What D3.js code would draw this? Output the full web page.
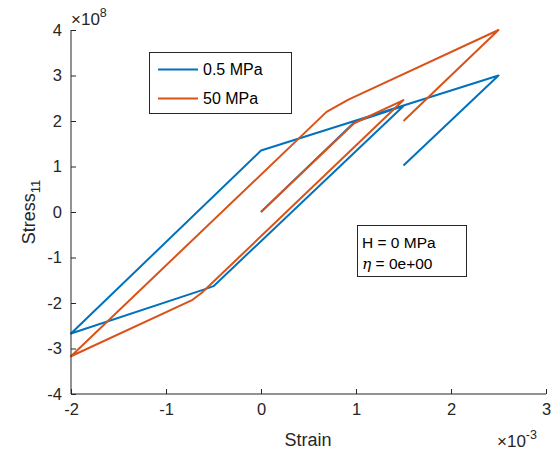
<!DOCTYPE html>
<html><head><meta charset="utf-8">
<script src="https://cdn.jsdelivr.net/npm/d3@7"></script>
<style>body{margin:0;background:#fff}svg{display:block}text{font-family:"Liberation Sans",Arial,Helvetica,sans-serif}</style>
</head><body>
<script>
// Strain (x 1e-3) and Stress11 (x 1e8)
const strainBlue  = [0, 0.98, 1.5, -0.5, -0.58, -2, 0, 2.5, 1.5];
const stressBlue  = [0, 1.97, 2.33, -1.63, -1.69, -2.67, 1.35, 3.0, 1.02];
const strainOrange = [0, 0.98, 1.5, -0.62, -0.72, -2, 0.69, 0.92, 2.5, 1.5];
const stressOrange = [0, 1.95, 2.46, -1.77, -1.93, -3.17, 2.2, 2.47, 4.0, 2.0];
const seriesNames = ["0.5 MPa", "50 MPa"];
const seriesColors = ["#0072BD", "#D95319"];
const xTicks = [-2, -1, 0, 1, 2, 3];
const yTicks = [-4, -3, -2, -1, 0, 1, 2, 3, 4];

const W = 560, H = 460;
const svg = d3.select("body").append("svg").attr("width", W).attr("height", H);
const x = d3.scaleLinear().domain([-2, 3]).range([71, 546]);
const y = d3.scaleLinear().domain([-4, 4]).range([394, 30]);
const axisColor = "#262626";

const series = [
  {name: seriesNames[0], color: seriesColors[0], pts: strainBlue.map((s, i) => [s, stressBlue[i]])},
  {name: seriesNames[1], color: seriesColors[1], pts: strainOrange.map((s, i) => [s, stressOrange[i]])}
];
const line = d3.line().x(d => x(d[0])).y(d => y(d[1]));
series.forEach(s => {
  svg.append("path").attr("d", line(s.pts)).attr("fill", "none")
    .attr("stroke", s.color).attr("stroke-width", 2).attr("stroke-linejoin", "round");
});

// Axes
const xAxis = d3.axisBottom(x).tickValues(xTicks).tickSize(-5).tickPadding(9).tickFormat(d => String(d));
const gx = svg.append("g").attr("transform", "translate(0,394)").call(xAxis);
const yAxis = d3.axisLeft(y).tickValues(yTicks).tickSize(-5).tickPadding(9).tickFormat(d => String(d));
const gy = svg.append("g").attr("transform", "translate(71,0)").call(yAxis);
[gx, gy].forEach(g => {
  g.select(".domain").attr("stroke", axisColor).attr("stroke-width", 1);
  g.selectAll(".tick line").attr("stroke", axisColor);
  g.selectAll(".tick text").attr("fill", axisColor).style("font-size", "16.5px")
    .style("font-family", '"Liberation Sans",Arial,sans-serif');
});
gx.select(".domain").attr("d", "M71,0H546");
gy.select(".domain").attr("d", "M0,394V30");

// Exponent labels
const e8 = svg.append("text").attr("x", 71).attr("y", 25).attr("fill", axisColor).style("font-size", "17px");
e8.append("tspan").text("\u00d7");
e8.append("tspan").text("10");
e8.append("tspan").attr("dy", -8).style("font-size", "12.5px").text("8");
const e3 = svg.append("text").attr("x", 497).attr("y", 447).attr("fill", axisColor).style("font-size", "17px");
e3.append("tspan").text("\u00d7");
e3.append("tspan").text("10");
e3.append("tspan").attr("dy", -8).style("font-size", "12.5px").text("-3");

// Axis labels
svg.append("text").attr("x", 308).attr("y", 446).attr("text-anchor", "middle")
  .attr("fill", axisColor).style("font-size", "18px").text("Strain");
const yl = svg.append("text").attr("transform", "translate(35,212) rotate(-90)").attr("text-anchor", "middle")
  .attr("fill", axisColor).style("font-size", "18px");
yl.append("tspan").text("Stress");
yl.append("tspan").attr("dy", 5).style("font-size", "13px").text("11");

// Legend
const lg = svg.append("g");
lg.append("rect").attr("x", 149.5).attr("y", 52.5).attr("width", 142).attr("height", 61)
  .attr("fill", "#fff").attr("stroke", axisColor).attr("stroke-width", 1);
series.forEach((s, i) => {
  const yy = 69.5 + i * 29;
  lg.append("line").attr("x1", 158).attr("x2", 198).attr("y1", yy).attr("y2", yy)
    .attr("stroke", s.color).attr("stroke-width", 2);
  lg.append("text").attr("x", 203).attr("y", yy + 5.5).attr("fill", "#000")
    .style("font-size", "16px").text(s.name);
});

// Annotation box
const ab = svg.append("g");
ab.append("rect").attr("x", 357.5).attr("y", 225.5).attr("width", 109).attr("height", 51)
  .attr("fill", "#fff").attr("stroke", axisColor).attr("stroke-width", 1);
ab.append("text").attr("x", 362).attr("y", 248).attr("fill", "#000").style("font-size", "15.5px").text("H = 0 MPa");
const t2 = ab.append("text").attr("x", 362).attr("y", 269).attr("fill", "#000").style("font-size", "15.5px");
t2.append("tspan").style("font-family", '"DejaVu Serif",serif').style("font-style", "italic").text("\u03b7");
t2.append("tspan").text(" = 0e+00");
</script>
</body></html>
